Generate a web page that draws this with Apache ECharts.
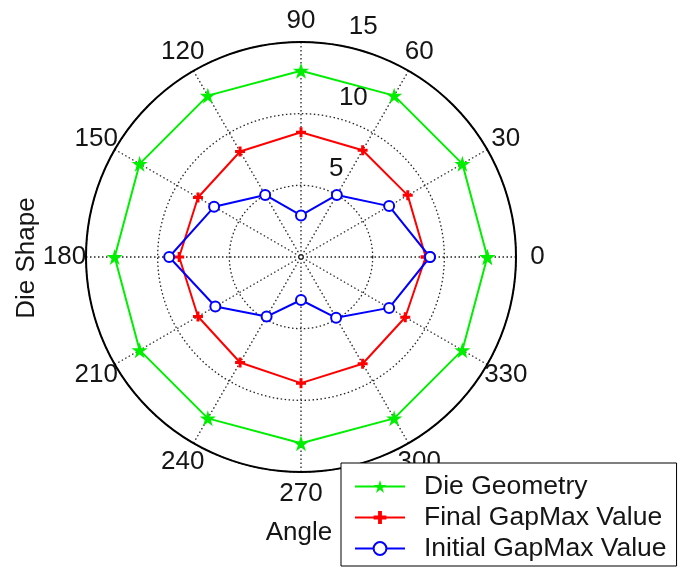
<!DOCTYPE html>
<html>
<head>
<meta charset="utf-8">
<script src="https://cdn.jsdelivr.net/npm/echarts@6/dist/echarts.min.js"></script>
<style>
  html, body { margin: 0; padding: 0; background: #fff; }
  #chart { width: 680px; height: 568px; }
</style>
</head>
<body>
<div id="chart"></div>
<script>
// Polar sample angles (degrees) and the radial values measured at each one
const angleDeg = [0, 30, 60, 90, 120, 150, 180, 210, 240, 270, 300, 330];
const dieGeometry = [13, 13, 13, 13, 13, 13, 13, 13, 13, 13, 13, 13];
const finalGapMax = [8.7, 8.6, 8.6, 8.7, 8.5, 8.3, 8.5, 8.3, 8.5, 8.8, 8.6, 8.4];
const initialGapMax = [9.0, 7.1, 5.0, 2.9, 5.0, 7.0, 9.2, 6.9, 4.8, 3.0, 4.9, 7.1];

// Axis text
const angleTicks = ['0', '30', '60', '90', '120', '150', '180', '210', '240', '270', '300', '330'];
const ringTicks = [5, 10, 15];
const seriesNames = ['Die Geometry', 'Final GapMax Value', 'Initial GapMax Value'];
const radialLabel = 'Die Shape';
const angularLabel = 'Angle';

const FONT = '"Liberation Sans", Arial, Helvetica, sans-serif';
const TEXT_COLOR = '#151515';
const R_MAX = 15;

// [radius, angle] pairs, closing each polygon back on its first point
function closedPolar(values) {
  const pts = values.map((v, i) => [v, angleDeg[i]]);
  pts.push([values[0], 360]);
  return pts;
}

const plusPath = 'path://M3.5,0H6.5V3.5H10V6.5H6.5V10H3.5V6.5H0V3.5H3.5Z';
const starPath = 'path://M50,0L61.8,36.3L100,36.3L69.1,58.8L80.9,95.1L50,72.6L19.1,95.1L30.9,58.8L0,36.3L38.2,36.3Z';

const chart = echarts.init(document.getElementById('chart'), null, { renderer: 'canvas' });

chart.setOption({
  backgroundColor: '#ffffff',
  animation: false,
  polar: { center: [301, 257], radius: 215 },
  angleAxis: {
    type: 'value', min: 0, max: 360, interval: 30,
    startAngle: 0, clockwise: false,
    axisLine: { show: true, lineStyle: { color: '#000', width: 2 } },
    axisTick: { show: false },
    axisLabel: { show: false },
    splitLine: { show: true, lineStyle: { color: '#222', width: 1.3, type: [1.5, 2.5] } }
  },
  radiusAxis: {
    type: 'value', min: 0, max: R_MAX, interval: 5,
    axisLine: { show: false },
    axisTick: { show: false },
    axisLabel: { show: false },
    splitLine: { show: true, lineStyle: { color: '#222', width: 1.3, type: [1.5, 2.5] } }
  },
  legend: {
    orient: 'vertical',
    left: 341, top: 463,
    backgroundColor: '#ffffff',
    borderColor: '#000', borderWidth: 1,
    padding: [10, 10, 4, 13],
    itemWidth: 50, itemHeight: 16, itemGap: 4,
    textStyle: { fontFamily: FONT, fontSize: 26.5, color: TEXT_COLOR, padding: [0, 0, 0, 14] },
    data: seriesNames,
    z: 10
  },
  series: [
    {
      name: seriesNames[0], type: 'line', coordinateSystem: 'polar',
      data: closedPolar(dieGeometry),
      symbol: starPath, symbolSize: 16,
      lineStyle: { color: '#00ee00', width: 2 },
      itemStyle: { color: '#00ee00' }
    },
    {
      name: seriesNames[1], type: 'line', coordinateSystem: 'polar',
      data: closedPolar(finalGapMax),
      symbol: plusPath, symbolSize: 10,
      lineStyle: { color: '#ff0000', width: 2 },
      itemStyle: { color: '#ff0000' }
    },
    {
      name: seriesNames[2], type: 'line', coordinateSystem: 'polar',
      data: closedPolar(initialGapMax),
      symbol: 'emptyCircle', symbolSize: 10,
      lineStyle: { color: '#0000ff', width: 2 },
      itemStyle: { color: '#0000ff', borderColor: '#0000ff', borderWidth: 2 }
    }
  ]
});

// Text placed through the polar scale: angle labels centred at 1.1 x outer radius,
// ring labels along the 82 degree ray just beyond each circle.
const texts = [];
angleTicks.forEach((t, i) => {
  const p = chart.convertToPixel({ polarIndex: 0 }, [R_MAX * 1.1, angleDeg[i]]);
  texts.push({
    type: 'text', z: 1, x: p[0], y: p[1],
    style: { text: t, fontFamily: FONT, fontSize: 26, fill: TEXT_COLOR, align: 'center', verticalAlign: 'middle' }
  });
});
ringTicks.forEach((r) => {
  const p = chart.convertToPixel({ polarIndex: 0 }, [r + 0.25, 82]);
  texts.push({
    type: 'text', z: 1, x: p[0] + 3, y: p[1] - 1,
    style: { text: '  ' + r, fontFamily: FONT, fontSize: 26, fill: TEXT_COLOR, align: 'left', verticalAlign: 'bottom' }
  });
});
texts.push({
  type: 'text', z: 1, x: 27, y: 258, rotation: Math.PI / 2,
  style: { text: radialLabel, fontFamily: FONT, fontSize: 26, fill: TEXT_COLOR, align: 'center', verticalAlign: 'middle' }
});
texts.push({
  type: 'text', z: 1, x: 299, y: 533,
  style: { text: angularLabel, fontFamily: FONT, fontSize: 26, fill: TEXT_COLOR, align: 'center', verticalAlign: 'middle' }
});

chart.setOption({ graphic: { elements: texts } });
</script>
</body>
</html>
